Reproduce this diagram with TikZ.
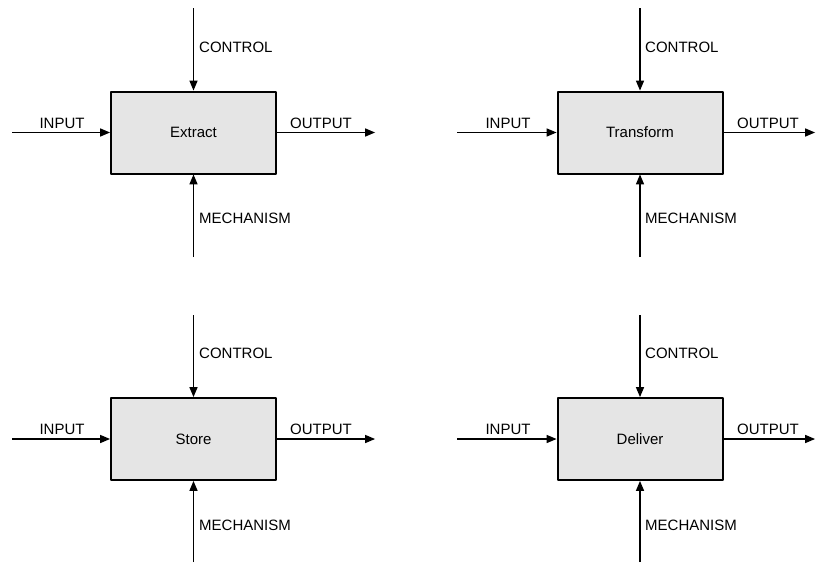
\documentclass[tikz,border=0pt]{standalone}
\usepackage{fontspec}
\setmainfont{Liberation Sans}
\usetikzlibrary{arrows}
\usetikzlibrary{positioning}

\begin{document}
\begin{tikzpicture}[line cap=butt,line join=round,>=triangle 45,x=1pt,y=-1pt,
  func/.style={draw,line width=2pt,fill=black!10,minimum width=165pt,minimum height=82pt,inner sep=0pt,font=\fontsize{15}{17}\selectfont},
  lbl/.style={font=\fontsize{15}{17}\selectfont,inner sep=0pt},
  flow/.style={line width=1.3pt}]
\useasboundingbox (0,0) rectangle (816,562);
% Extract
\node[func] (extract) at (193.5,132.5) {Extract};
\coordinate (ex-c) at (193.5,8);
\coordinate (ex-i) at (12,132.5);
\coordinate (ex-o) at (375,132.5);
\coordinate (ex-m) at (193.5,257);
\draw [->,flow] (ex-c) -- (extract.north);
\draw [->,flow] (ex-i) -- (extract.west);
\draw [->,flow] (extract.east) -- (ex-o);
\draw [->,flow] (ex-m) -- (extract.south);
\node[lbl,anchor=west] (ex-ctl) at (199,47) {CONTROL};
\node[lbl] (ex-in) at (62,123) {INPUT};
\node[lbl] (ex-out) at (321,123) {OUTPUT};
\node[lbl,anchor=west] (ex-mech) at (199,218) {MECHANISM};
% Transform
\node[func] (transform) at (640,132.5) {Transform};
\coordinate (tr-c) at (640,8);
\coordinate (tr-i) at (457,132.5);
\coordinate (tr-o) at (815,132.5);
\coordinate (tr-m) at (640,257);
\draw [->,flow] (tr-c) -- (transform.north);
\draw [->,flow] (tr-i) -- (transform.west);
\draw [->,flow] (transform.east) -- (tr-o);
\draw [->,flow] (tr-m) -- (transform.south);
\node[lbl,anchor=west] (tr-ctl) at (645,47) {CONTROL};
\node[lbl] (tr-in) at (508,123) {INPUT};
\node[lbl] (tr-out) at (768,123) {OUTPUT};
\node[lbl,anchor=west] (tr-mech) at (645,218) {MECHANISM};
% Store
\node[func] (store) at (193.5,439) {Store};
\coordinate (st-c) at (193.5,315);
\coordinate (st-i) at (12,439);
\coordinate (st-o) at (375,439);
\coordinate (st-m) at (193.5,562);
\draw [->,flow] (st-c) -- (store.north);
\draw [->,flow] (st-i) -- (store.west);
\draw [->,flow] (store.east) -- (st-o);
\draw [->,flow] (st-m) -- (store.south);
\node[lbl,anchor=west] (st-ctl) at (199,353) {CONTROL};
\node[lbl] (st-in) at (62,429) {INPUT};
\node[lbl] (st-out) at (321,429) {OUTPUT};
\node[lbl,anchor=west] (st-mech) at (199,525) {MECHANISM};
% Deliver
\node[func] (deliver) at (640,439) {Deliver};
\coordinate (de-c) at (640,315);
\coordinate (de-i) at (457,439);
\coordinate (de-o) at (815,439);
\coordinate (de-m) at (640,562);
\draw [->,flow] (de-c) -- (deliver.north);
\draw [->,flow] (de-i) -- (deliver.west);
\draw [->,flow] (deliver.east) -- (de-o);
\draw [->,flow] (de-m) -- (deliver.south);
\node[lbl,anchor=west] (de-ctl) at (645,353) {CONTROL};
\node[lbl] (de-in) at (508,429) {INPUT};
\node[lbl] (de-out) at (768,429) {OUTPUT};
\node[lbl,anchor=west] (de-mech) at (645,525) {MECHANISM};
\end{tikzpicture}
\end{document}
